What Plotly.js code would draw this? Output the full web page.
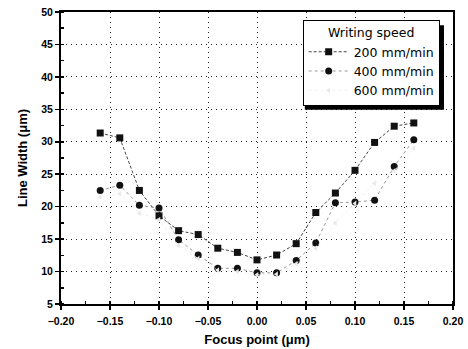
<!DOCTYPE html>
<html>
<head>
<meta charset="utf-8">
<script src="https://cdn.plot.ly/plotly-3.0.1.min.js"></script>
<style>html,body{margin:0;padding:0;background:#fff;}#chart{width:468px;height:349px;}</style>
</head>
<body>
<div id="chart"></div>
<script>
const focusPoint = [-0.16, -0.14, -0.12, -0.10, -0.08, -0.06, -0.04, -0.02, 0.00, 0.02, 0.04, 0.06, 0.08, 0.10, 0.12, 0.14, 0.16];
const width200 = [31.35, 30.6, 22.5, 18.6, 16.3, 15.7, 13.6, 12.95, 11.8, 12.55, 14.3, 19.1, 22.1, 25.6, 29.9, 32.4, 32.9];
const width400 = [22.5, 23.3, 20.2, 19.8, 14.9, 12.55, 10.5, 10.5, 9.8, 9.8, 11.7, 14.4, 20.6, 20.7, 21.0, 26.2, 30.3];
const width600 = [21.5, 22.0, 19.0, 18.0, 14.0, 12.0, 10.2, 10.0, 9.5, 9.6, 11.2, 13.6, 17.5, 20.5, 23.6, 25.5, 29.0];
const seriesNames = ['200 mm/min', '400 mm/min', '600 mm/min'];

const traces = [
  {x: focusPoint, y: width200, name: seriesNames[0], mode: 'lines+markers',
   marker: {symbol: 'square', size: 7, color: '#111'}, line: {color: '#444', width: 1, dash: '3px,2px'}},
  {x: focusPoint, y: width400, name: seriesNames[1], mode: 'lines+markers',
   marker: {symbol: 'circle', size: 7, color: '#111'}, line: {color: '#999', width: 1, dash: 'dot'}},
  {x: focusPoint, y: width600, name: seriesNames[2], mode: 'lines+markers',
   marker: {symbol: 'triangle-left', size: 5, color: '#e8e8e8'}, line: {color: '#f2f2f2', width: 1, dash: 'dot'}}
];

const fam = 'Liberation Sans, Arial, sans-serif';
const legFam = 'DejaVu Sans, sans-serif';
const layout = {
  width: 468, height: 349,
  margin: {l: 61, r: 15, t: 12, b: 45},
  paper_bgcolor: '#fff', plot_bgcolor: '#fff',
  font: {family: fam, color: '#000'},
  showlegend: true,
  xaxis: {
    range: [-0.20, 0.20], dtick: 0.05, tick0: 0, tickformat: '.2f',
    showline: true, linecolor: '#000', linewidth: 2, mirror: true,
    ticks: 'outside', ticklen: 4, tickwidth: 1.5, tickcolor: '#000',
    ticklabelstandoff: 2,
    minor: {dtick: 0.025, ticks: 'inside', ticklen: 3, tickcolor: '#000', showgrid: false},
    showgrid: true, gridcolor: '#222', griddash: '1px,4px', gridwidth: 1,
    zeroline: false,
    tickfont: {family: fam, size: 10.5, color: '#000', weight: 'bold'},
    title: {text: 'Focus point (μm)', font: {family: fam, size: 13, color: '#000', weight: 'bold'}, standoff: 9}
  },
  yaxis: {
    range: [5, 50], dtick: 5, tick0: 0,
    showline: true, linecolor: '#000', linewidth: 2, mirror: true,
    ticks: 'outside', ticklen: 4, tickwidth: 1.5, tickcolor: '#000',
    minor: {dtick: 2.5, ticks: 'inside', ticklen: 3, tickcolor: '#000', showgrid: false},
    showgrid: true, gridcolor: '#222', griddash: '1px,4px', gridwidth: 1,
    zeroline: false,
    tickfont: {family: fam, size: 10.5, color: '#000', weight: 'bold'},
    title: {text: 'Line Width (μm)', font: {family: fam, size: 13, color: '#000', weight: 'bold'}, standoff: 11}
  },
  legend: {
    x: 0.6165, y: 0.973, xanchor: 'left', yanchor: 'top',
    bgcolor: '#fff', bordercolor: '#000', borderwidth: 1,
    font: {family: legFam, size: 12.5, color: '#000'},
    title: {text: 'Writing speed', side: 'top center', font: {family: legFam, size: 12.5, color: '#000'}},
    itemwidth: 40, tracegroupgap: 0
  },
  shapes: [
    {type: 'rect', xref: 'paper', yref: 'paper', x0: 0.622, x1: 0.977, y0: 0.665, y1: 0.955,
     fillcolor: '#000', line: {width: 0}, layer: 'above'}
  ]
};

Plotly.newPlot('chart', traces, layout, {displayModeBar: false, staticPlot: true});
</script>
</body>
</html>
